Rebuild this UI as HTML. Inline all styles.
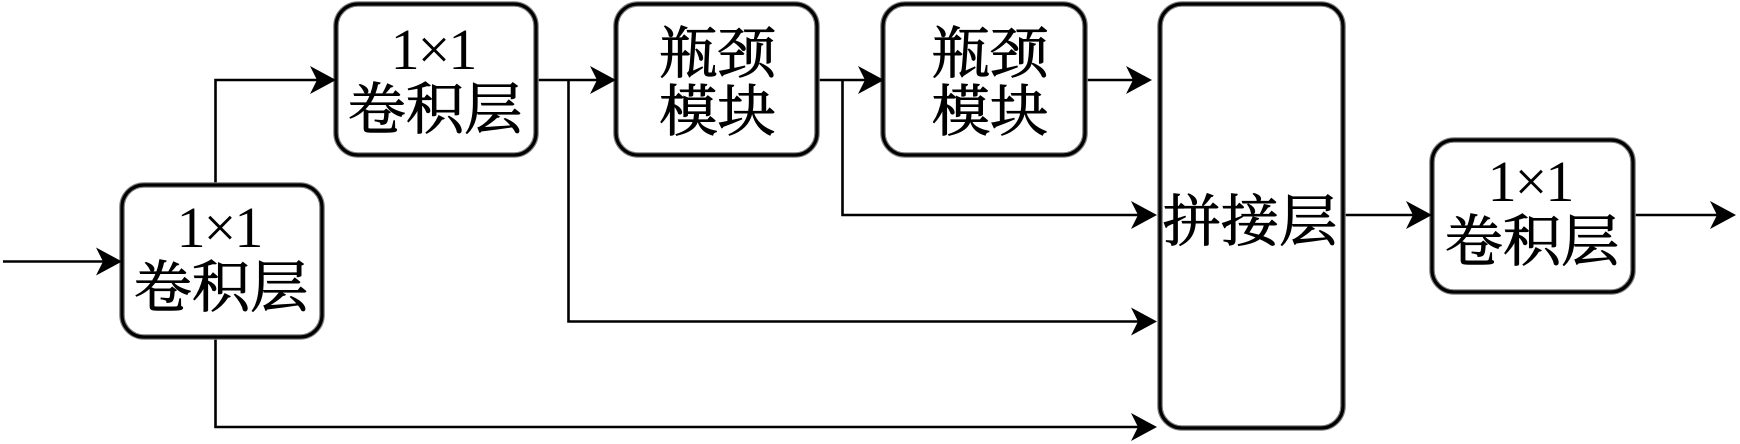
<!DOCTYPE html>
<html lang="zh">
<head>
<meta charset="utf-8">
<style>
html,body{margin:0;padding:0;background:#fff;width:1740px;height:444px;overflow:hidden}
svg{display:block}
.h{fill:#fff;stroke:#808080;stroke-width:5.6}
.b{fill:none;stroke:#000;stroke-width:3.2}
.l{fill:none;stroke:#000;stroke-width:2.6}
.c{font-family:"Liberation Serif","Noto Serif CJK SC",serif;font-size:56px;fill:#000;text-anchor:middle;stroke:#000;stroke-width:.9}
.n{font-family:"Liberation Serif",serif;font-size:58px;fill:#000;text-anchor:middle;letter-spacing:-2px}
</style>
</head>
<body>
<svg width="1740" height="444" viewBox="0 0 1740 444" xmlns="http://www.w3.org/2000/svg">
<defs><path id="a" d="M0 0L-26 -14L-19 0L-26 14Z" fill="#000"/></defs>

<path class="l" d="M3 261.5H105"/>
<path class="l" d="M215.5 184V80H320"/>
<path class="l" d="M215.5 338V427H1140"/>
<path class="l" d="M536 80H600"/>
<path class="l" d="M568.5 80V321.5H1140"/>
<path class="l" d="M817 80H868"/>
<path class="l" d="M842.5 80V215H1140"/>
<path class="l" d="M1085 80H1140"/>
<path class="l" d="M1344 215H1416"/>
<path class="l" d="M1633 215H1720"/>

<rect class="h" x="122" y="185" width="200" height="152" rx="22" ry="22"/>
<rect class="b" x="122" y="185" width="200" height="152" rx="22" ry="22"/>
<rect class="h" x="336" y="4" width="200" height="151" rx="22" ry="22"/>
<rect class="b" x="336" y="4" width="200" height="151" rx="22" ry="22"/>
<rect class="h" x="616" y="4" width="201" height="151" rx="22" ry="22"/>
<rect class="b" x="616" y="4" width="201" height="151" rx="22" ry="22"/>
<rect class="h" x="883" y="4" width="202" height="151" rx="22" ry="22"/>
<rect class="b" x="883" y="4" width="202" height="151" rx="22" ry="22"/>
<rect class="h" x="1160" y="4" width="183" height="424" rx="22" ry="22"/>
<rect class="b" x="1160" y="4" width="183" height="424" rx="22" ry="22"/>
<rect class="h" x="1432" y="140" width="201" height="152" rx="22" ry="22"/>
<rect class="b" x="1432" y="140" width="201" height="152" rx="22" ry="22"/>

<use href="#a" x="122" y="261.5"/>
<use href="#a" x="336" y="80"/>
<use href="#a" x="616" y="80"/>
<use href="#a" x="884" y="80"/>
<use href="#a" x="1152" y="80"/>
<use href="#a" x="1157" y="215"/>
<use href="#a" x="1157" y="321.5"/>
<use href="#a" x="1157" y="427"/>
<use href="#a" x="1432" y="215"/>
<use href="#a" x="1736" y="215"/>

<text class="n" x="219" y="247">1×1</text>
<text class="c" transform="translate(221 307) scale(1.04 1)">卷积层</text>
<text class="n" x="433" y="69">1×1</text>
<text class="c" transform="translate(435 129) scale(1.04 1)">卷积层</text>
<text class="c" transform="translate(717.5 73) scale(1.04 1)">瓶颈</text>
<text class="c" transform="translate(717.5 131) scale(1.04 1)">模块</text>
<text class="c" transform="translate(990 73) scale(1.04 1)">瓶颈</text>
<text class="c" transform="translate(990 131) scale(1.04 1)">模块</text>
<text class="c" transform="translate(1250 241) scale(1.04 1)">拼接层</text>
<text class="n" x="1530" y="201">1×1</text>
<text class="c" transform="translate(1532 261) scale(1.04 1)">卷积层</text>
</svg>
</body>
</html>
